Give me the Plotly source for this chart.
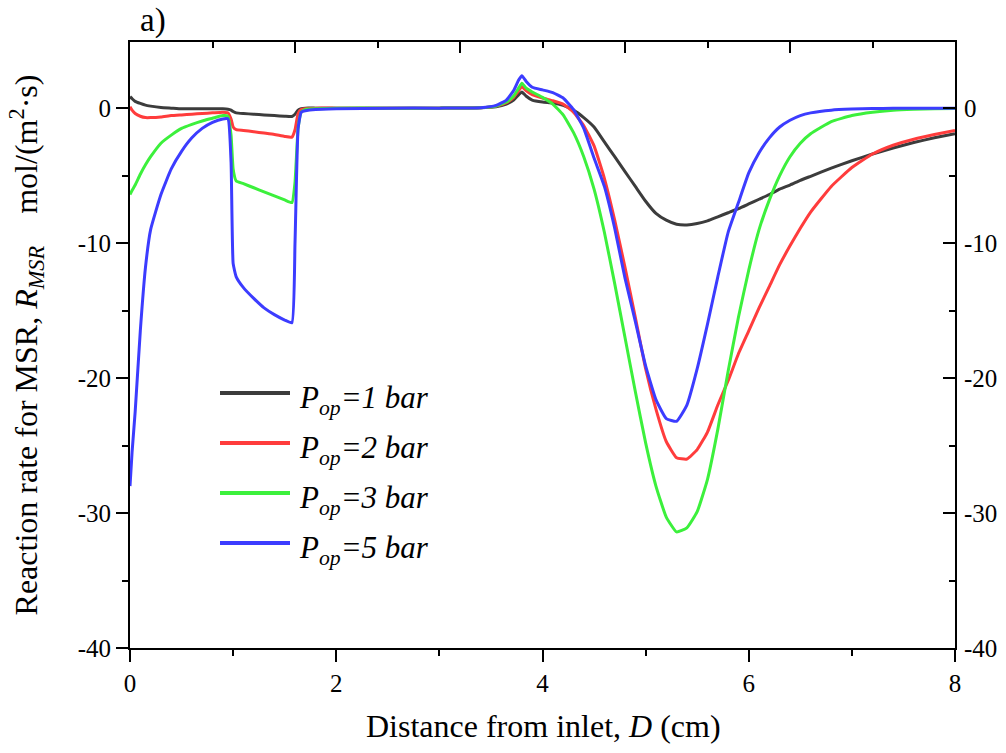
import plotly.graph_objects as go

# Distance from inlet (cm)
x = [0, 0.02, 0.05, 0.1, 0.15, 0.2, 0.3, 0.4, 0.5, 0.6, 0.7, 0.8, 0.9, 0.95, 0.98, 1.0, 1.03,
     1.1, 1.2, 1.3, 1.4, 1.5, 1.57, 1.6, 1.63, 1.66, 1.7, 1.8, 2.0, 2.5, 3.0, 3.4, 3.55, 3.65,
     3.72, 3.77, 3.8, 3.84, 3.9, 4.0, 4.1, 4.2, 4.3, 4.4, 4.5, 4.6, 4.7, 4.8, 4.9, 5.0, 5.1,
     5.2, 5.3, 5.4, 5.5, 5.6, 5.7, 5.8, 5.9, 6.0, 6.1, 6.2, 6.3, 6.4, 6.5, 6.6, 6.8, 7.0, 7.2,
     7.4, 7.6, 7.8, 8.0]

p1 = [0.85, 0.7, 0.5, 0.35, 0.22, 0.15, 0.05, 0.0, -0.05, -0.05, -0.05, -0.05, -0.05, -0.08,
      -0.15, -0.25, -0.35, -0.4, -0.45, -0.5, -0.55, -0.6, -0.62, -0.45, -0.15, -0.05, 0, 0, 0,
      0, 0, 0.02, 0.1, 0.3, 0.6, 1.0, 1.2, 0.9, 0.6, 0.45, 0.38, 0.2, -0.15, -0.7, -1.4, -2.5,
      -3.6, -4.7, -5.8, -6.9, -7.8, -8.3, -8.6, -8.65, -8.55, -8.35, -8.05, -7.75, -7.45, -7.1,
      -6.75, -6.4, -6.0, -5.7, -5.35, -5.05, -4.45, -3.9, -3.4, -2.95, -2.55, -2.2, -1.9]

p2 = [0.1, -0.15, -0.4, -0.6, -0.7, -0.7, -0.65, -0.55, -0.5, -0.45, -0.4, -0.35, -0.3, -0.35,
      -0.8, -1.4, -1.6, -1.65, -1.75, -1.85, -1.95, -2.1, -2.15, -1.6, -0.4, -0.1, -0.05, 0, 0,
      0, 0, 0.03, 0.15, 0.4, 0.8, 1.3, 1.6, 1.3, 1.0, 0.75, 0.55, 0.3, -0.3, -1.3, -2.8, -5.2,
      -8.3, -11.8, -15.5, -19.3, -22.3, -24.7, -25.9, -26.0, -25.3, -24.0, -22.0, -20.2, -18.2,
      -16.5, -14.8, -13.2, -11.6, -10.2, -8.9, -7.7, -5.8, -4.4, -3.4, -2.75, -2.3, -1.95, -1.65]

p3 = [-6.4, -6.1, -5.7, -4.9, -4.2, -3.6, -2.6, -2.0, -1.5, -1.2, -0.95, -0.75, -0.55, -0.6,
      -2.0, -4.5, -5.4, -5.6, -5.9, -6.2, -6.5, -6.8, -7.0, -5.5, -1.5, -0.3, -0.1, -0.05, 0,
      0, 0, 0.03, 0.15, 0.45, 0.9, 1.5, 1.85, 1.5, 1.2, 0.8, 0.3, -0.5, -1.8, -3.6, -6.0, -9.2,
      -13.0, -17.0, -21.0, -24.8, -28.0, -30.3, -31.4, -31.1, -29.9, -27.5, -23.8, -19.5, -15.5,
      -12.0, -9.0, -6.8, -5.0, -3.6, -2.6, -1.9, -1.0, -0.55, -0.3, -0.15, -0.08, -0.04, -0.02]

p5 = [-28.0, -25.5, -22.5, -16.5, -11.8, -9.0, -6.4, -4.5, -3.2, -2.2, -1.5, -1.05, -0.8, -0.8,
      -4.0, -11.5, -12.5, -13.3, -14.1, -14.8, -15.3, -15.7, -15.9, -10.0, -1.5, -0.3, -0.2,
      -0.1, -0.05, 0, 0, 0.03, 0.2, 0.6, 1.3, 2.1, 2.4, 2.0, 1.55, 1.35, 1.15, 0.75, -0.1, -1.5,
      -3.7, -5.8, -8.9, -12.6, -15.8, -19.1, -21.6, -23.0, -23.2, -22.0, -19.3, -16.0, -12.5,
      -9.2, -7.0, -4.8, -3.3, -2.2, -1.4, -0.9, -0.55, -0.35, -0.15, -0.07, -0.03, -0.01, 0, 0, 0]

series_names = ["<i>P</i><sub><i>op</i></sub><i>=1 bar</i>",
                "<i>P</i><sub><i>op</i></sub><i>=2 bar</i>",
                "<i>P</i><sub><i>op</i></sub><i>=3 bar</i>",
                "<i>P</i><sub><i>op</i></sub><i>=5 bar</i>"]
series_values = [p1, p2, p3, p5]
colors = ["#3c3c3c", "#ff3c3c", "#3cf03c", "#3c3cff"]

x_ticks = [0, 2, 4, 6, 8]
x_ticktext = ["0", "2", "4", "6", "8"]
y_ticks = [-40, -30, -20, -10, 0]
y_ticktext = ["-40", "-30", "-20", "-10", "0"]

x_title = "Distance from inlet, <i>D</i> (cm)"
y_title = "Reaction rate for MSR, <i>R</i><sub><i>MSR</i></sub>&nbsp;&nbsp;&nbsp; mol/(m<sup>2</sup>·s)"

FONT = "Liberation Serif"

fig = go.Figure()
for name, vals, c in zip(series_names, series_values, colors):
    fig.add_trace(go.Scatter(x=x, y=vals, mode="lines", name=name,
                             line=dict(color=c, width=3, shape="spline", smoothing=0.4),
                             showlegend=False))
# anchor trace for the mirrored top / right frame axes
fig.add_trace(go.Scatter(x=[None], y=[None], xaxis="x2", yaxis="y2", mode="lines",
                         showlegend=False, hoverinfo="skip"))

# manual legend (long line samples like the original)
leg_y = [393, 443, 493, 543]
L, R, T, B = 130, 955, 42, 648
shapes = []
annotations = []
for name, c, py in zip(series_names, colors, leg_y):
    yp = (B - py) / (B - T)
    shapes.append(dict(type="line", xref="paper", yref="paper",
                       x0=(220 - L) / (R - L), x1=(290 - L) / (R - L), y0=yp, y1=yp,
                       line=dict(color=c, width=4)))
    annotations.append(dict(xref="paper", yref="paper", x=(297 - L) / (R - L), y=yp,
                            xanchor="left", yanchor="middle", text=name, showarrow=False,
                            font=dict(family=FONT, size=31, color="black"), yshift=-7))

annotations.append(dict(xref="paper", yref="paper", x=(138 - L) / (R - L), y=(B - 21) / (B - T),
                        xanchor="left", yanchor="middle", text="a)", showarrow=False,
                        font=dict(family=FONT, size=33, color="black")))

# x-axis title
annotations.append(dict(xref="paper", yref="paper", x=(543 - L) / (R - L), y=(B - 726) / (B - T),
                        xanchor="center", yanchor="middle", text=x_title, showarrow=False,
                        font=dict(family=FONT, size=32, color="black")))

axis_common = dict(showgrid=False, zeroline=False, showline=True, linewidth=2,
                   linecolor="black", tickwidth=2, tickcolor="black", automargin=False,
                   tickfont=dict(family=FONT, size=25, color="black"))

fig.update_layout(
    width=1006, height=753,
    margin=dict(l=L, r=1006 - R, t=T, b=753 - B, autoexpand=False),
    paper_bgcolor="white", plot_bgcolor="white",
    font=dict(family=FONT, color="black"),
    shapes=shapes, annotations=annotations,
    xaxis=dict(range=[0, 8], tickmode="array", tickvals=x_ticks, ticktext=x_ticktext,
               ticks="outside", ticklen=12,
               minor=dict(dtick=1, tick0=0, ticks="outside", ticklen=6, tickwidth=2,
                          tickcolor="black"),
               **axis_common),
    xaxis2=dict(range=[0, 10], overlaying="x", side="top", anchor="y", tick0=0, dtick=2,
                ticks="inside", ticklen=11, showticklabels=False,
                minor=dict(dtick=1, ticks="inside", ticklen=6, tickwidth=2, tickcolor="black"),
                **axis_common),
    yaxis=dict(range=[-40, 4.9], tickmode="array", tickvals=y_ticks, ticktext=y_ticktext,
               ticks="outside", ticklen=12,
               minor=dict(dtick=5, tick0=0, ticks="outside", ticklen=6, tickwidth=2,
                          tickcolor="black"),
               title=dict(text=y_title, font=dict(family=FONT, size=32), standoff=30),
               **axis_common),
    yaxis2=dict(range=[-40, 4.9], overlaying="y", side="right", anchor="x",
                tickmode="array", tickvals=y_ticks, ticktext=y_ticktext,
                ticks="inside", ticklen=12, ticklabelstandoff=2,
                minor=dict(dtick=5, tick0=0, ticks="inside", ticklen=6, tickwidth=2,
                           tickcolor="black"),
                **axis_common),
)

fig.write_html("out.html")
